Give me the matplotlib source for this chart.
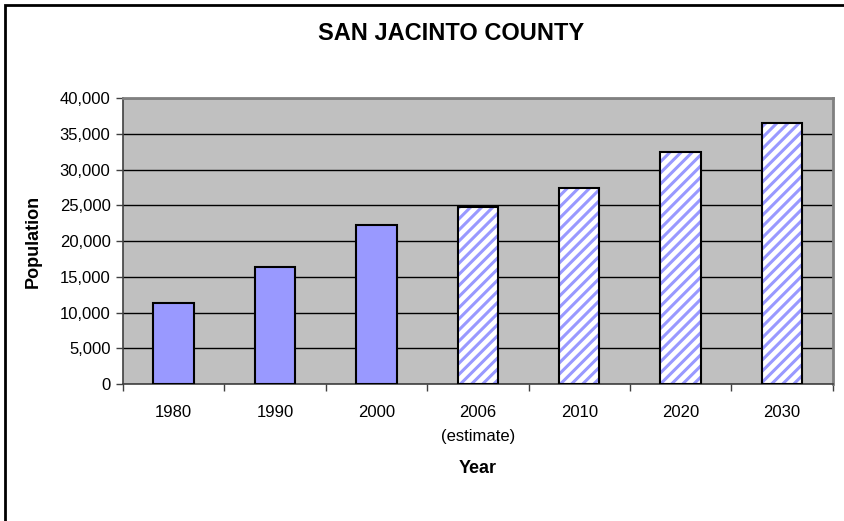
import matplotlib.pyplot as plt
from matplotlib.patches import Rectangle
from matplotlib.ticker import FuncFormatter, FixedLocator

plt.rcParams['font.family'] = ['Liberation Sans', 'DejaVu Sans']
plt.rcParams['hatch.linewidth'] = 2.2

# Data penduduk
years = ['1980', '1990', '2000', '2006\n(estimate)', '2010', '2020', '2030']
population = [11400, 16400, 22250, 24750, 27400, 32500, 36550]
is_projection = [False, False, False, True, True, True, True]

bar_color = '#9999FF'

fig = plt.figure(figsize=(8.45, 5.21), dpi=100)
ax = fig.add_axes([0.1456, 0.263, 0.8398, 0.5483])
ax.set_facecolor('#C0C0C0')

x = list(range(len(years)))
for i, (val, proj) in enumerate(zip(population, is_projection)):
    if proj:
        # batang proyeksi: latar putih dengan arsir biru
        ax.bar(i, val, width=0.4, color='white', edgecolor=bar_color,
               hatch='///', linewidth=0, zorder=3)
        ax.bar(i, val, width=0.4, fill=False, edgecolor='black',
               linewidth=1.5, zorder=4)
    else:
        ax.bar(i, val, width=0.4, color=bar_color, edgecolor='black',
               linewidth=1.5, zorder=3)

ax.set_xlim(-0.5, len(years) - 0.5)
ax.set_ylim(0, 40000)
ax.set_yticks(range(0, 40001, 5000))
ax.yaxis.set_major_formatter(FuncFormatter(lambda v, p: f'{int(v):,}'))
ax.grid(axis='y', color='black', linewidth=1, zorder=1)

ax.set_xticks(x)
ax.set_xticklabels(years, fontsize=12, linespacing=1.75)
ax.xaxis.set_minor_locator(FixedLocator([i - 0.5 for i in range(len(years) + 1)]))
ax.tick_params(axis='x', which='major', length=0, pad=15)
ax.tick_params(axis='x', which='minor', length=5, width=1, color='#404040', direction='out')
ax.tick_params(axis='y', length=5, width=1, color='#404040', labelsize=12, pad=4)

for side in ['top', 'right']:
    ax.spines[side].set_color('#808080')
    ax.spines[side].set_linewidth(2)
for side in ['left', 'bottom']:
    ax.spines[side].set_color('#404040')
    ax.spines[side].set_linewidth(1.2)

ax.set_xlabel('Year', fontsize=13, fontweight='bold', labelpad=12)
ax.set_ylabel('Population', fontsize=13, fontweight='bold', labelpad=13)
fig.text(0.534, 0.936, 'SAN JACINTO COUNTY', ha='center', va='center',
         fontsize=17, fontweight='bold')

# bingkai grafik
W, H = 845, 521
fig.patches.append(Rectangle((5 / W, -20 / H), 860 / W, (H + 20 - 5) / H,
                             transform=fig.transFigure, fill=False,
                             edgecolor='black', linewidth=2))

fig.savefig('out.png', dpi=100)
